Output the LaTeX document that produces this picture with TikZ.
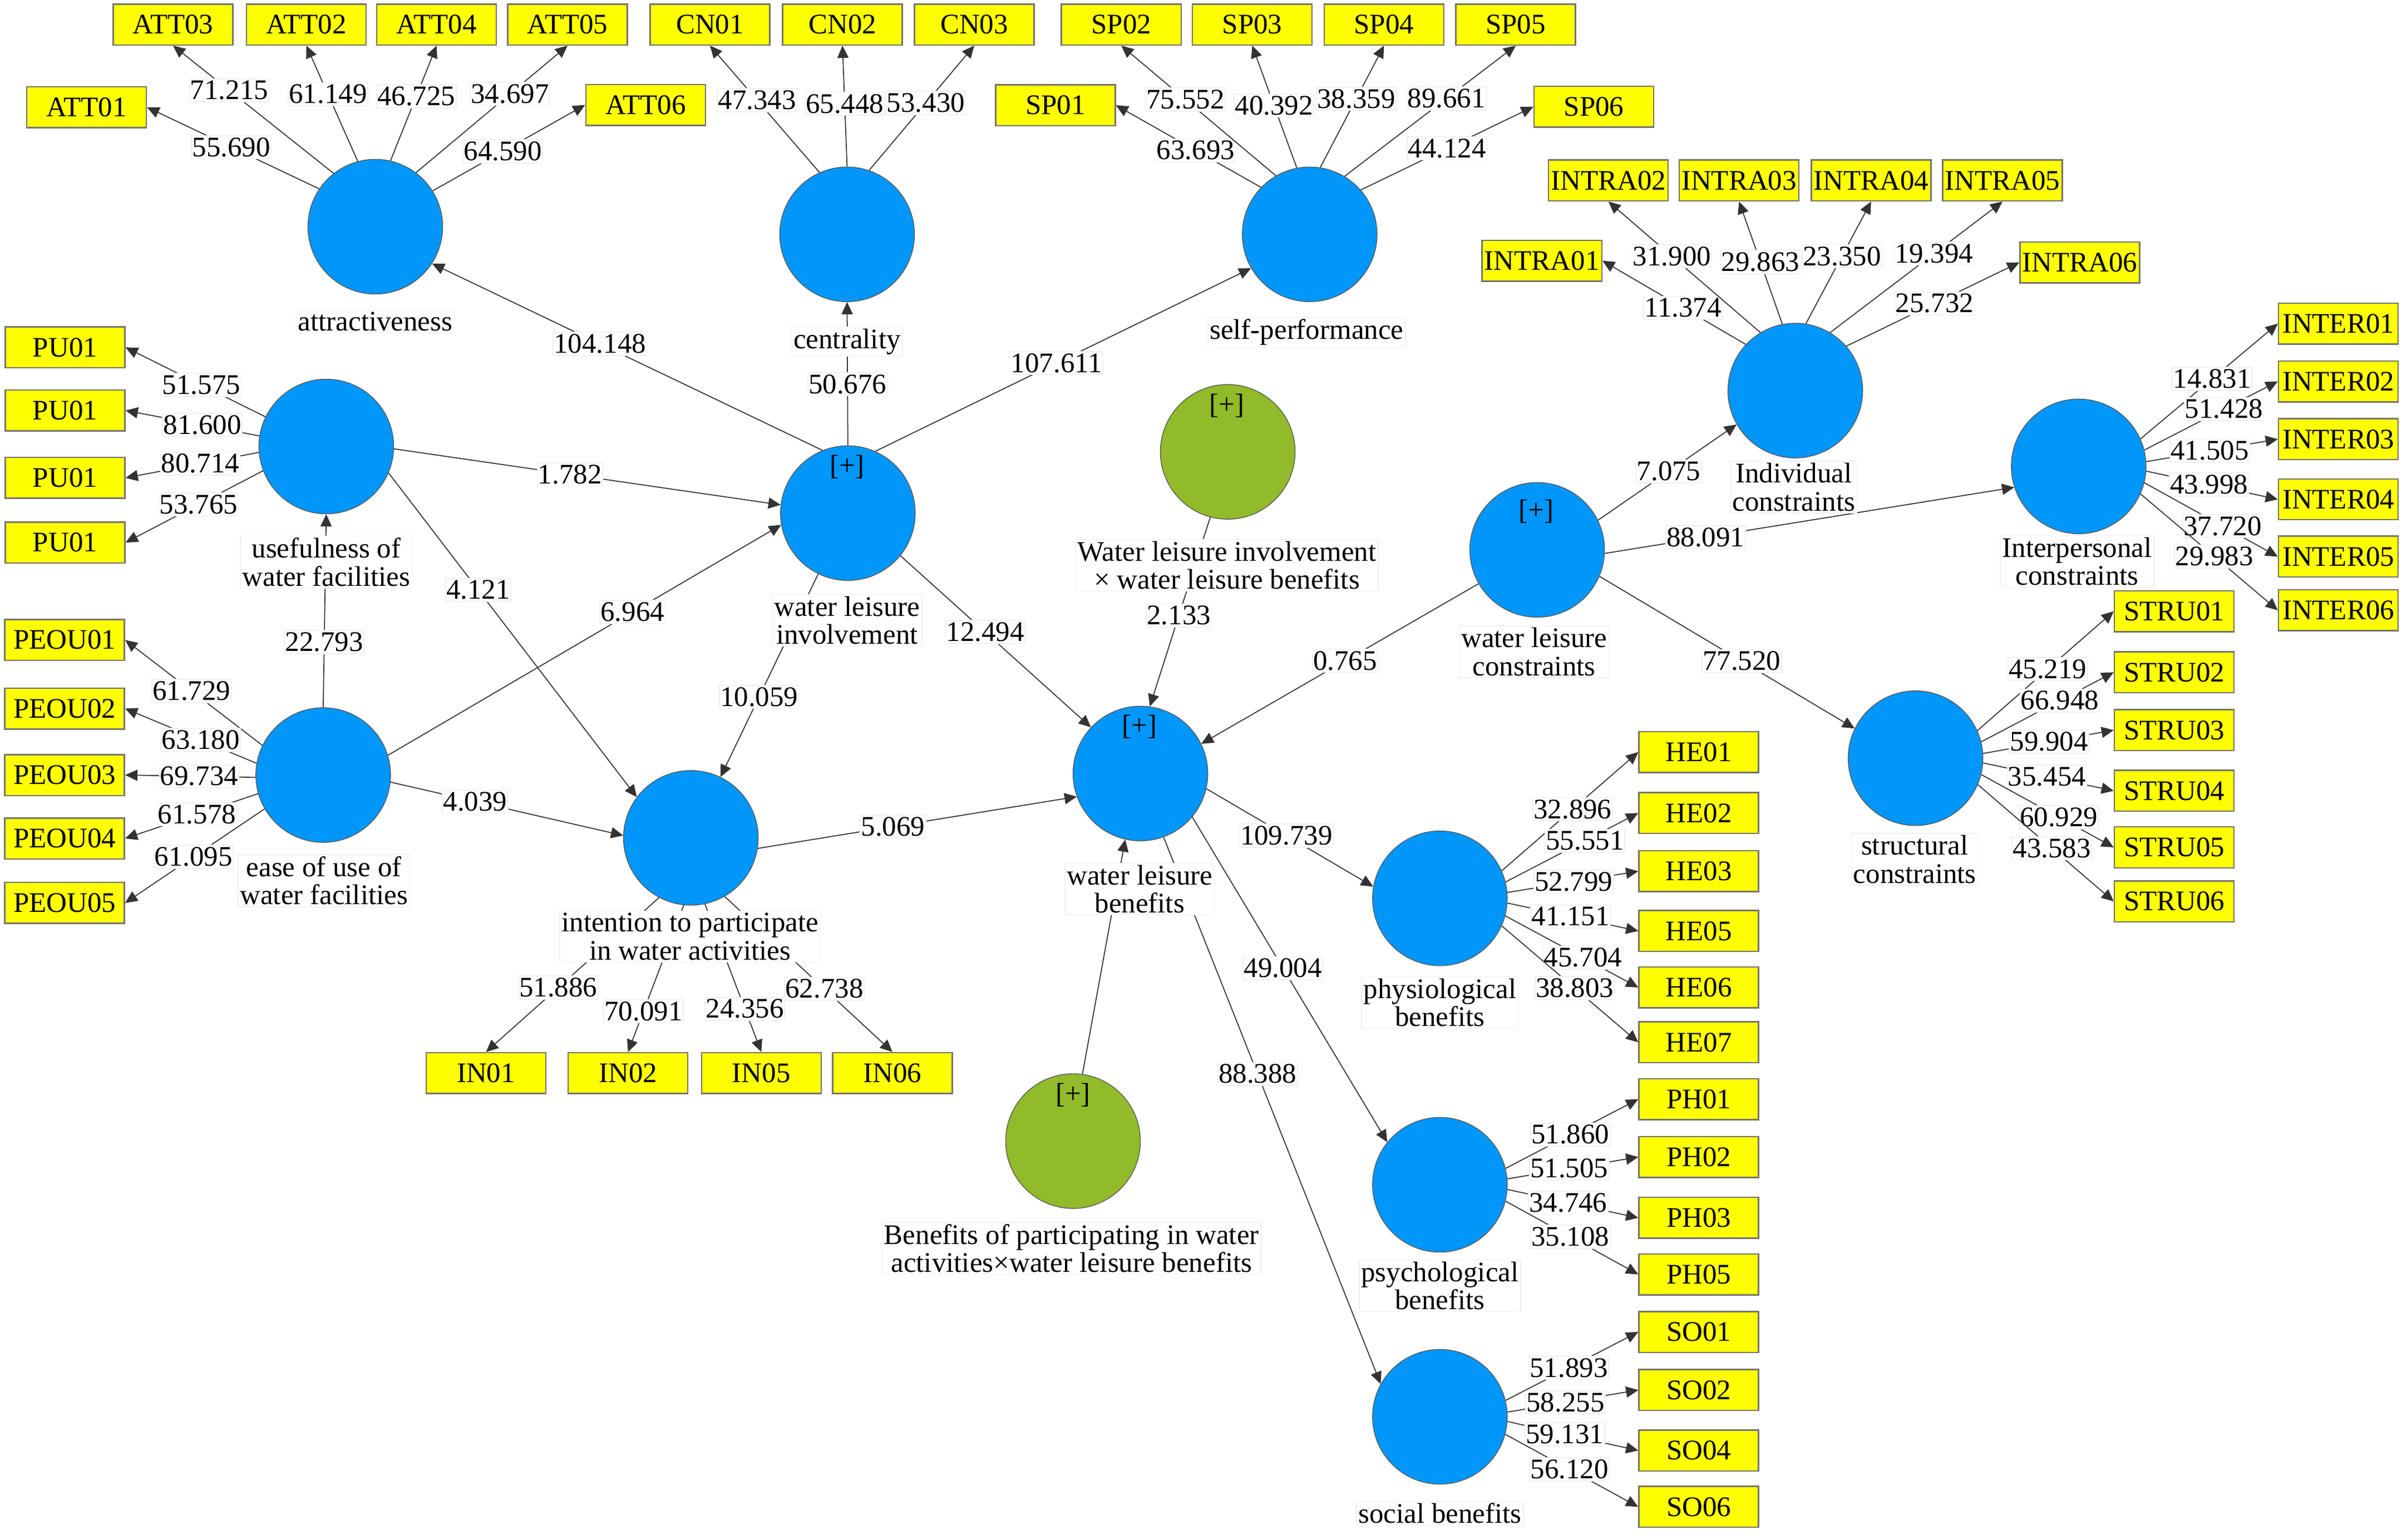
\documentclass[tikz,border=0pt]{standalone}
\usepackage{fontspec}
\setmainfont{Liberation Serif}
\usetikzlibrary{arrows.meta}
\definecolor{plsblue}{RGB}{0,150,250}
\definecolor{plsgreen}{RGB}{145,187,42}
\definecolor{plsyellow}{RGB}{255,255,0}

\begin{document}
\begin{tikzpicture}[x=0.02753cm,y=-0.02753cm,font=\fontsize{14.5}{14.3}\selectfont,
  lv/.style = {draw=black!65, circle, fill=plsblue, minimum size=2.42cm, inner sep=0pt},
  mod/.style = {lv, fill=plsgreen},
  ind/.style = {draw=black!55, line width=0.7pt, fill=plsyellow, minimum width=2.15cm, minimum height=0.735cm, inner sep=0.5pt},
  val/.style = {fill=white, draw=black!6, inner xsep=0.4pt, inner ysep=1pt},
  lvname/.style = {fill=white, draw=black!6, align=center, inner sep=1pt},
  arr/.style = {draw=black!80, line width=0.5pt, -{Triangle[length=2.2mm,width=2mm]}}]
\useasboundingbox (0,0) rectangle (1568.1,1005.1);

% latent variables
\node[lv] (att) at (245,148) {};
\node[lv] (cn) at (553,153) {};
\node[lv] (sp) at (855,153) {};
\node[lv] (use) at (213,291.5) {};
\node[lv] (ease) at (211,506) {};
\node[lv] (inv) at (553.5,335) {};
\node[lv] (itp) at (451,547) {};
\node[lv] (ben) at (744.5,505) {};
\node[mod] (wxb) at (801.5,295) {};
\node[mod] (pxb) at (700.5,745) {};
\node[lv] (con) at (1003.5,359) {};
\node[lv] (ind) at (1172,255) {};
\node[lv] (ipc) at (1357,304.5) {};
\node[lv] (stc) at (1250.5,495) {};
\node[lv] (phy) at (940,586.5) {};
\node[lv] (psy) at (940,773.5) {};
\node[lv] (soc) at (940,925) {};
\node (invp) at (553,305) {[+]};
\node (benp) at (744,474.5) {[+]};
\node (wxbp) at (801,265) {[+]};
\node (pxbp) at (700.5,715) {[+]};
\node (conp) at (1003,334) {[+]};

% indicators
\node[ind] (ATT03) at (113,16) {ATT03};
\node[ind] (ATT02) at (200,16) {ATT02};
\node[ind] (ATT04) at (285,16) {ATT04};
\node[ind] (ATT05) at (370.5,16) {ATT05};
\node[ind] (ATT01) at (56.5,70) {ATT01};
\node[ind] (ATT06) at (421.5,68.5) {ATT06};
\node[ind] (CN01) at (463.5,16) {CN01};
\node[ind] (CN02) at (550,16) {CN02};
\node[ind] (CN03) at (636,16) {CN03};
\node[ind] (SP02) at (732,16) {SP02};
\node[ind] (SP03) at (817.5,16) {SP03};
\node[ind] (SP04) at (903.5,16) {SP04};
\node[ind] (SP05) at (989.5,16) {SP05};
\node[ind] (SP01) at (689,68.7) {SP01};
\node[ind] (SP06) at (1040.5,69.7) {SP06};
\node[ind] (INTRA02) at (1050,117.8) {INTRA02};
\node[ind] (INTRA03) at (1135.3,117.8) {INTRA03};
\node[ind] (INTRA04) at (1221.5,117.8) {INTRA04};
\node[ind] (INTRA05) at (1307.3,117.8) {INTRA05};
\node[ind] (INTRA01) at (1006.6,170.2) {INTRA01};
\node[ind] (INTRA06) at (1357.8,171.3) {INTRA06};
\node[ind] (INTER01) at (1526.5,211.3) {INTER01};
\node[ind] (INTER02) at (1526.5,249) {INTER02};
\node[ind] (INTER03) at (1526.5,286.7) {INTER03};
\node[ind] (INTER04) at (1526.5,326) {INTER04};
\node[ind] (INTER05) at (1526.5,363.4) {INTER05};
\node[ind] (INTER06) at (1526.5,398.4) {INTER06};
\node[ind] (STRU01) at (1419.4,399.1) {STRU01};
\node[ind] (STRU02) at (1419.4,438.9) {STRU02};
\node[ind] (STRU03) at (1419.4,476.7) {STRU03};
\node[ind] (STRU04) at (1419.4,516.3) {STRU04};
\node[ind] (STRU05) at (1419.4,553.2) {STRU05};
\node[ind] (STRU06) at (1419.4,588.5) {STRU06};
\node[ind] (HE01) at (1109,491) {HE01};
\node[ind] (HE02) at (1109,530.8) {HE02};
\node[ind] (HE03) at (1109,568.8) {HE03};
\node[ind] (HE05) at (1109,607.8) {HE05};
\node[ind] (HE06) at (1109,644.7) {HE06};
\node[ind] (HE07) at (1109,680.5) {HE07};
\node[ind] (PH01) at (1109,717.6) {PH01};
\node[ind] (PH02) at (1109,755.4) {PH02};
\node[ind] (PH03) at (1109,795.1) {PH03};
\node[ind] (PH05) at (1109,832) {PH05};
\node[ind] (SO01) at (1109,869.6) {SO01};
\node[ind] (SO02) at (1109,907.5) {SO02};
\node[ind] (SO04) at (1109,947) {SO04};
\node[ind] (SO06) at (1109,983.8) {SO06};
\node[ind] (pu1) at (42.5,226.8) {PU01};
\node[ind] (pu2) at (42.5,268) {PU01};
\node[ind] (pu3) at (42.5,312) {PU01};
\node[ind] (pu4) at (42.5,354.2) {PU01};
\node[ind] (PEOU01) at (42.2,417.8) {PEOU01};
\node[ind] (PEOU02) at (42.2,462.6) {PEOU02};
\node[ind] (PEOU03) at (42.2,506) {PEOU03};
\node[ind] (PEOU04) at (42.2,547.4) {PEOU04};
\node[ind] (PEOU05) at (42.2,589.5) {PEOU05};
\node[ind] (IN01) at (317.3,700.6) {IN01};
\node[ind] (IN02) at (410,700.6) {IN02};
\node[ind] (IN05) at (497,700.6) {IN05};
\node[ind] (IN06) at (582.6,700.6) {IN06};

% outer loadings
\draw[arr] (att.146) -- node[val,pos=.51]{55.690} (ATT01.east);
\draw[arr] (att.128) -- node[val,pos=.65]{71.215} (ATT03.south);
\draw[arr] (att.105) -- node[val,pos=.58]{61.149} (ATT02.south);
\draw[arr] (att.77) -- node[val,pos=.56]{46.725} (ATT04.south);
\draw[arr] (att.53) -- node[val,pos=.62]{34.697} (ATT05.south);
\draw[arr] (att.32) -- node[val,pos=.46]{64.590} (ATT06.west);
\draw[arr] (cn.114) -- node[val,pos=.57]{47.343} (CN01.south);
\draw[arr] (cn.90) -- node[val,pos=.52]{65.448} (CN02.south);
\draw[arr] (cn.71) -- node[val,pos=.54]{53.430} (CN03.south);
\draw[arr] (sp.136.5) -- node[val,pos=.45]{63.693} (SP01.east);
\draw[arr] (sp.120.7) -- node[val,pos=.585]{75.552} (SP02.south);
\draw[arr] (sp.101.6) -- node[val,pos=.51]{40.392} (SP03.south);
\draw[arr] (sp.81.9) -- node[val,pos=.564]{38.359} (SP04.south);
\draw[arr] (sp.59) -- node[val,pos=.596]{89.661} (SP05.south);
\draw[arr] (sp.41.3) -- node[val,pos=.5]{44.124} (SP06.west);
\draw[arr] (ind.137) -- node[val,pos=.438]{11.374} (INTRA01.east);
\draw[arr] (ind.121) -- node[val,pos=.582]{31.900} (INTRA02.south);
\draw[arr] (ind.101) -- node[val,pos=.506]{29.863} (INTRA03.south);
\draw[arr] (ind.81.7) -- node[val,pos=.553]{23.350} (INTRA04.south);
\draw[arr] (ind.59) -- node[val,pos=.603]{19.394} (INTRA05.south);
\draw[arr] (ind.41) -- node[val,pos=.51]{25.732} (INTRA06.west);
\draw[arr] (ipc.24) -- node[val,pos=.521]{14.831} (INTER01.west);
\draw[arr] (ipc.14.5) -- node[val,pos=.596]{51.428} (INTER02.west);
\draw[arr] (ipc.4.7) -- node[val,pos=.483]{41.505} (INTER03.west);
\draw[arr] (ipc.-4.7) -- node[val,pos=.477]{43.998} (INTER04.west);
\draw[arr] (ipc.-14.5) -- node[val,pos=.586]{37.720} (INTER05.west);
\draw[arr] (ipc.-24) -- node[val,pos=.538]{29.983} (INTER06.west);
\draw[arr] (stc.24.6) -- node[val,pos=.516]{45.219} (STRU01.west);
\draw[arr] (stc.14) -- node[val,pos=.593]{66.948} (STRU02.west);
\draw[arr] (stc.4.5) -- node[val,pos=.505]{59.904} (STRU03.west);
\draw[arr] (stc.-4.5) -- node[val,pos=.489]{35.454} (STRU04.west);
\draw[arr] (stc.-14.4) -- node[val,pos=.586]{60.929} (STRU05.west);
\draw[arr] (stc.-23.6) -- node[val,pos=.545]{43.583} (STRU06.west);
\draw[arr] (phy.24) -- node[val,pos=.519]{32.896} (HE01.west);
\draw[arr] (phy.14.5) -- node[val,pos=.598]{55.551} (HE02.west);
\draw[arr] (phy.5) -- node[val,pos=.506]{52.799} (HE03.west);
\draw[arr] (phy.-4.5) -- node[val,pos=.482]{41.151} (HE05.west);
\draw[arr] (phy.-15) -- node[val,pos=.584]{45.704} (HE06.west);
\draw[arr] (phy.-24.5) -- node[val,pos=.535]{38.803} (HE07.west);
\draw[arr] (psy.14) -- node[val,pos=.488]{51.860} (PH01.west);
\draw[arr] (psy.5) -- node[val,pos=.472]{51.505} (PH02.west);
\draw[arr] (psy.-4) -- node[val,pos=.464]{34.746} (PH03.west);
\draw[arr] (psy.-14) -- node[val,pos=.488]{35.108} (PH05.west);
\draw[arr] (soc.14) -- node[val,pos=.476]{51.893} (SO01.west);
\draw[arr] (soc.4.7) -- node[val,pos=.443]{58.255} (SO02.west);
\draw[arr] (soc.-4) -- node[val,pos=.438]{59.131} (SO04.west);
\draw[arr] (soc.-15) -- node[val,pos=.483]{56.120} (SO06.west);
\draw[arr] (use.154) -- node[val,pos=.458]{51.575} (pu1.east);
\draw[arr] (use.171) -- node[val,pos=.426]{81.600} (pu2.east);
\draw[arr] (use.185) -- node[val,pos=.439]{80.714} (pu3.east);
\draw[arr] (use.201) -- node[val,pos=.469]{53.765} (pu4.east);
\draw[arr] (ease.154) -- node[val,pos=.516]{61.729} (PEOU01.east);
\draw[arr] (ease.170) -- node[val,pos=.425]{63.180} (PEOU02.east);
\draw[arr] (ease.182.5) -- node[val,pos=.432]{69.734} (PEOU03.east);
\draw[arr] (ease.196.7) -- node[val,pos=.46]{61.578} (PEOU04.east);
\draw[arr] (ease.210.5) -- node[val,pos=.51]{61.095} (PEOU05.east);
\draw[arr] (itp.-118) -- node[val,pos=.583]{51.886} (IN01.north);
\draw[arr] (itp.-96) -- node[val,pos=.723]{70.091} (IN02.north);
\draw[arr] (itp.-78) -- node[val,pos=.709]{24.356} (IN05.north);
\draw[arr] (itp.-60) -- node[val,pos=.594]{62.738} (IN06.north);

% inner model
\draw[arr] (inv.112.6) -- node[val,pos=.57]{104.148} (att.-33);
\draw[arr] (inv.90) -- node[val,pos=.427]{50.676} (cn.-90);
\draw[arr] (inv.66) -- node[val,pos=.482]{107.611} (sp.210.7);
\draw[arr] (use.-2) -- node[val,pos=.455]{1.782} (inv.173.5);
\draw[arr] (ease.17.3) -- node[val,pos=.622]{6.964} (inv.190.4);
\draw[arr] (use.-23) -- node[val,pos=.361]{4.121} (itp.143);
\draw[arr] (ease.-6) -- node[val,pos=.364]{4.039} (itp.178.7);
\draw[arr] (ease.90) -- node[val,pos=.338]{22.793} (use.-90);
\draw[arr] (inv.244) -- node[val,pos=.606]{10.059} (itp.64);
\draw[arr] (inv.-39.3) -- node[val,pos=.445]{12.494} (ben.137.4);
\draw[arr] (itp.-9.3) -- node[val,pos=.424]{5.069} (ben.200.3);
\draw[arr] (wxb.-105) -- node[val,pos=.519]{2.133} (ben.82);
\draw[arr] (pxb.82) -- (ben.-103);
\draw[arr] (con.210.2) -- node[val,pos=.481]{0.765} (ben.26.7);
\draw[arr] (ben.-13.8) -- node[val,pos=.479]{109.739} (phy.170.4);
\draw[arr] (ben.-40.2) -- node[val,pos=.465]{49.004} (psy.141.6);
\draw[arr] (ben.-70) -- node[val,pos=.433]{88.388} (soc.151.3);
\draw[arr] (con.26.7) -- node[val,pos=.51]{7.075} (ind.210.7);
\draw[arr] (con.-3.7) -- node[val,pos=.246]{88.091} (ipc.198.4);
\draw[arr] (con.-23.4) -- node[val,pos=.557]{77.520} (stc.154);

% names of the latent variables
\node[lvname] (attn) at (245,210) {attractiveness};
\node[lvname] (cnn) at (553,223) {centrality};
\node[lvname] (spn) at (853,217) {self-performance};
\node[lvname] (usen) at (213,367) {usefulness of\\water facilities};
\node[lvname] (invn) at (553,405) {water leisure\\involvement};
\node[lvname] (easen) at (211.5,575) {ease of use of\\water facilities};
\node[lvname] (itpn) at (450.5,611.5) {intention to participate\\in water activities};
\node[lvname] (benn) at (744,580.5) {water leisure\\benefits};
\node[lvname] (wxbn) at (801,369) {Water leisure involvement\\× water leisure benefits};
\node[lvname] (pxbn) at (699.5,815) {Benefits of participating in water\\activities×water leisure benefits};
\node[lvname] (conn) at (1001.5,425.5) {water leisure\\constraints};
\node[lvname] (indn) at (1171,318) {Individual\\constraints};
\node[lvname] (ipcn) at (1356,366.5) {Interpersonal\\constraints};
\node[lvname] (stcn) at (1250,561) {structural\\constraints};
\node[lvname] (phyn) at (940,654.5) {physiological\\benefits};
\node[lvname] (psyn) at (940,839.5) {psychological\\benefits};
\node[lvname] (socn) at (940,988) {social benefits};
\end{tikzpicture}
\end{document}
